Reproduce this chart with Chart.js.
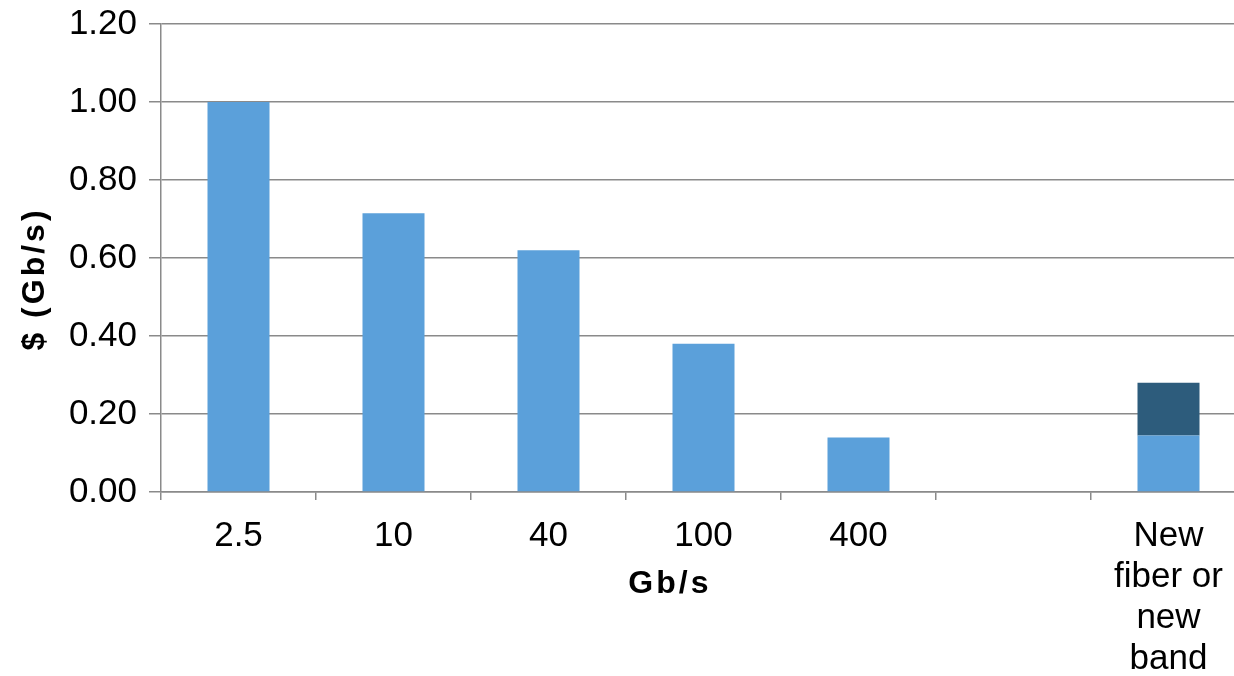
<!DOCTYPE html>
<html>
<head>
<meta charset="utf-8">
<script src="https://cdn.jsdelivr.net/npm/chart.js@4.4.0/dist/chart.umd.min.js"></script>
<style>
  html, body { margin: 0; padding: 0; background: #fff; overflow: hidden; }
  #wrap { width: 1246px; height: 676px; position: relative; }
</style>
</head>
<body>
<div id="wrap"><canvas id="costChart"></canvas></div>
<script>
// categories (last one is a multi-line label)
const categories = ['2.5', '10', '40', '100', '400', '', ['New', 'fiber or', 'new', 'band']];
// cost per Gb/s, base part and extra part for the new fiber / band
const baseCost = [1.00, 0.715, 0.62, 0.38, 0.14, null, 0.145];
const extraCost = [null, null, null, null, null, null, 0.135];
const yTicks = [0, 0.2, 0.4, 0.6, 0.8, 1.0, 1.2];

const yTitle = '$ (Gb/s)';
const xTitle = 'Gb/s';

// axis titles placed like in the original figure
const axisTitles = {
    id: 'axisTitles',
    afterDraw(chart) {
        const ctx = chart.ctx;
        const area = chart.chartArea;
        ctx.save();
        ctx.fillStyle = '#000';
        ctx.font = 'bold 32px "Liberation Sans", Arial, sans-serif';
        ctx.letterSpacing = '3px';
        ctx.textAlign = 'center';
        ctx.textBaseline = 'middle';
        ctx.fillText(xTitle, area.left + (area.right - area.left) * 0.469, 584);
        ctx.translate(35, 279);
        ctx.rotate(-Math.PI / 2);
        ctx.fillText(yTitle, 0, 0);
        ctx.restore();
    }
};

const ctx = document.getElementById('costChart').getContext('2d');
new Chart(ctx, {
    type: 'bar',
    data: {
        labels: categories,
        datasets: [{
            label: 'base',
            data: baseCost,
            backgroundColor: '#5BA0DA',
            barPercentage: 0.4,
            categoryPercentage: 1.0
        }, {
            label: 'extra',
            data: extraCost,
            backgroundColor: '#2D5C7C',
            barPercentage: 0.4,
            categoryPercentage: 1.0
        }]
    },
    options: {
        responsive: true,
        maintainAspectRatio: false,
        animation: false,
        layout: { padding: { top: 24, right: 0, left: 0, bottom: 0 } },
        plugins: {
            legend: { display: false },
            tooltip: { enabled: false }
        },
        scales: {
            x: {
                stacked: true,
                afterFit(scale) { scale.height = 184; },
                grid: {
                    offset: true,
                    drawOnChartArea: false,
                    drawTicks: true,
                    tickLength: 8,
                    color: '#8a8a8a',
                    lineWidth: 1.5
                },
                border: { color: '#8a8a8a', width: 1.5 },
                ticks: {
                    color: '#000',
                    padding: 16,
                    maxRotation: 0,
                    autoSkip: false,
                    font: { family: '"Liberation Sans", Arial, sans-serif', size: 35, lineHeight: 1.17 }
                }
            },
            y: {
                stacked: true,
                min: 0,
                max: 1.2,
                afterFit(scale) {
                    scale.width = 161;
                    scale.paddingTop = 0;
                    scale.paddingBottom = 0;
                },
                afterBuildTicks(scale) { scale.ticks = yTicks.map(v => ({ value: v })); },
                grid: {
                    color: '#8a8a8a',
                    lineWidth: 1.5,
                    drawTicks: true,
                    tickLength: 12
                },
                border: { color: '#8a8a8a', width: 1.5 },
                ticks: {
                    color: '#000',
                    padding: 12,
                    callback: v => v.toFixed(2),
                    font: { family: '"Liberation Sans", Arial, sans-serif', size: 35, lineHeight: 0.6 }
                }
            }
        }
    },
    plugins: [axisTitles]
});
</script>
</body>
</html>
